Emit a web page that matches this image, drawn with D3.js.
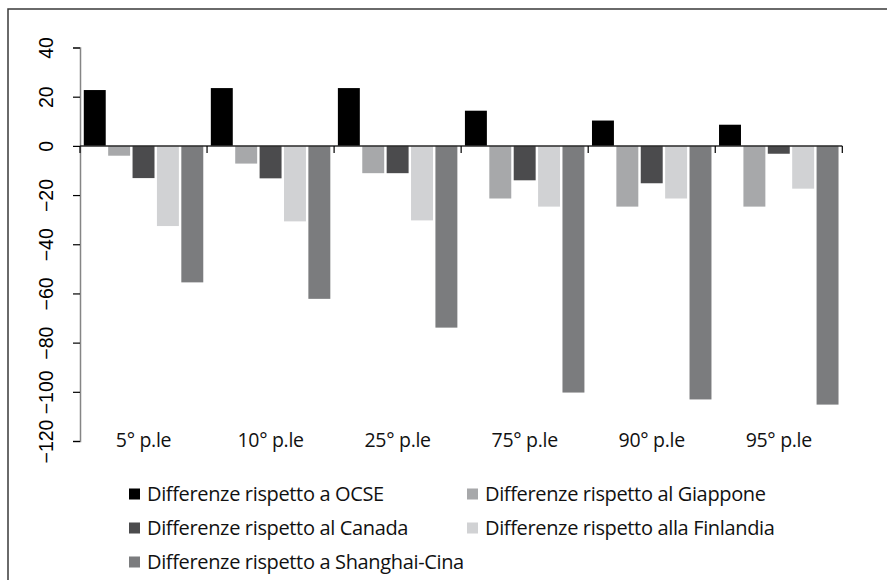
<!DOCTYPE html>
<html>
<head>
<meta charset="utf-8">
<script src="https://cdn.jsdelivr.net/npm/d3@7"></script>
<style>
  html, body { margin: 0; padding: 0; background: #fff; }
  svg { display: block; }
</style>
</head>
<body>
<div id="chart"></div>
<script>
// percentile categories
const categories = ["5° p.le", "10° p.le", "25° p.le", "75° p.le", "90° p.le", "95° p.le"];

// one array per series
const seriesNames = [
  "Differenze rispetto a OCSE",
  "Differenze rispetto al Giappone",
  "Differenze rispetto al Canada",
  "Differenze rispetto alla Finlandia",
  "Differenze rispetto a Shanghai-Cina"
];
const ocse      = [22.7, 23.5, 23.5, 14.3, 10.3, 8.6];
const giappone  = [-4.0, -7.2, -11.1, -21.4, -24.7, -24.7];
const canada    = [-13.1, -13.2, -11.1, -14.0, -15.2, -3.2];
const finlandia = [-32.6, -30.7, -30.3, -24.7, -21.4, -17.4];
const shanghai  = [-55.5, -62.2, -73.9, -100.3, -103.1, -105.2];
const seriesColors = ["#000000", "#a7a8aa", "#4b4b4d", "#d1d2d4", "#7b7c7e"];
const yTicks = [40, 20, 0, -20, -40, -60, -80, -100, -120];

const allSeries = [ocse, giappone, canada, finlandia, shanghai];

const width = 887, height = 580;
const svg = d3.select("#chart").append("svg")
  .attr("width", width)
  .attr("height", height);

// frame (only top and left edges are visible in the crop)
svg.append("path")
  .attr("d", `M8,${height} L8,9 L${width},9`)
  .attr("fill", "none")
  .attr("stroke", "#3a3a3a")
  .attr("stroke-width", 1.5);

const plot = { left: 80, right: 842.3, top: 47.5, bottom: 441 };

const y = d3.scaleLinear().domain([-120, 40]).range([plot.bottom, plot.top]);
const x0 = d3.scaleBand().domain(categories).range([plot.left, plot.right]);
const x1 = d3.scaleBand().domain(d3.range(seriesNames.length))
  .range([0, x0.bandwidth()])
  .paddingInner(0.1)
  .paddingOuter(0.155);

const labelFont = "'Open Sans', 'Noto Sans', sans-serif";

// bars
const groups = svg.append("g").selectAll("g")
  .data(categories)
  .join("g")
  .attr("transform", d => `translate(${x0(d)},0)`);

groups.selectAll("rect")
  .data((c, ci) => allSeries.map((s, si) => ({ si, v: s[ci] })))
  .join("rect")
  .attr("x", d => x1(d.si))
  .attr("width", x1.bandwidth())
  .attr("y", d => y(Math.max(0, d.v)))
  .attr("height", d => Math.abs(y(d.v) - y(0)))
  .attr("fill", d => seriesColors[d.si]);

// y axis
const yAxis = svg.append("g")
  .attr("transform", `translate(${plot.left},0)`)
  .attr("color", "#000")
  .call(d3.axisLeft(y).tickValues(yTicks).tickSize(7).tickFormat(d3.format("d")));
yAxis.select(".domain").attr("stroke", "#858585").attr("stroke-width", 1.5);
yAxis.selectAll(".tick line").attr("stroke", "#000").attr("stroke-width", 1.2);
yAxis.selectAll(".tick text")
  .attr("font-family", "'Liberation Sans', Arial, sans-serif")
  .attr("font-size", 19.5)
  .attr("fill", "#000")
  .attr("text-anchor", "middle")
  .attr("x", null)
  .attr("dy", null)
  .attr("transform", "translate(-34,0) rotate(-90)")
  .attr("dominant-baseline", "central");

// zero line with category separators
const zeroAxis = svg.append("g")
  .attr("transform", `translate(0,${y(0)})`);
zeroAxis.append("line")
  .attr("x1", plot.left).attr("x2", plot.right)
  .attr("stroke", "#2a2a2a").attr("stroke-width", 1.5);
const bounds = categories.map(c => x0(c)).concat([x0(categories[categories.length - 1]) + x0.bandwidth()]);
zeroAxis.selectAll("line.sep")
  .data(bounds)
  .join("line")
  .attr("class", "sep")
  .attr("x1", d => d).attr("x2", d => d)
  .attr("y1", 0).attr("y2", 7)
  .attr("stroke", "#000").attr("stroke-width", 1.2);

// category labels
svg.append("g").selectAll("text")
  .data(categories)
  .join("text")
  .attr("x", d => x0(d) + x0.bandwidth() / 2)
  .attr("y", 447)
  .attr("text-anchor", "middle")
  .attr("font-family", labelFont)
  .attr("font-size", 19.5)
  .attr("letter-spacing", -0.3)
  .attr("fill", "#111")
  .text(d => d);

// legend
const legendPos = [
  { x: 129, y: 494 }, { x: 467, y: 494 },
  { x: 129, y: 528 }, { x: 467, y: 528 },
  { x: 129, y: 562 }
];
const legend = svg.append("g").selectAll("g")
  .data(seriesNames)
  .join("g")
  .attr("transform", (d, i) => `translate(${legendPos[i].x},${legendPos[i].y})`);
legend.append("rect")
  .attr("x", 0).attr("y", -5.5)
  .attr("width", 11).attr("height", 11)
  .attr("fill", (d, i) => seriesColors[i]);
legend.append("text")
  .attr("x", 18)
  .attr("y", 0)
  .attr("dy", "0.35em")
  .attr("font-family", labelFont)
  .attr("font-size", 20)
  .attr("letter-spacing", -0.35)
  .attr("fill", "#111")
  .text(d => d);
</script>
</body>
</html>
